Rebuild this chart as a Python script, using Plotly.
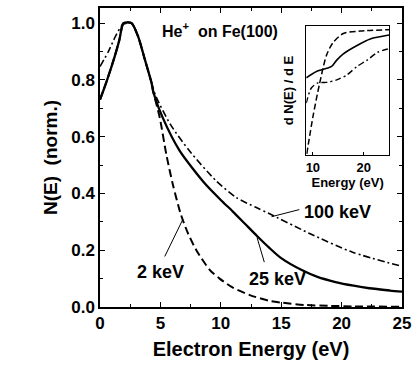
import plotly.graph_objects as go

# ---- main panel data (Electron energy in eV, N(E) normalised) ----
E_25 = [0, 0.55, 1.2, 1.6, 1.95, 2.6, 3.16, 3.71, 4.27, 4.4, 5.2, 6.6, 8.7, 10, 11, 12, 13, 14,
        15, 16.7, 18, 19.5, 21, 22.3, 24, 25]
N_25 = [0.73, 0.795, 0.88, 0.94, 1.0, 1.0, 0.952, 0.872, 0.789, 0.76, 0.666, 0.55, 0.434, 0.377, 0.336,
        0.293, 0.25, 0.209, 0.172, 0.13, 0.106, 0.088, 0.075, 0.066, 0.058, 0.054]

E_2 = [0, 0.55, 1.2, 1.6, 1.95, 2.6, 3.16, 3.71, 4.27, 4.4, 4.95, 5.5, 6.05, 6.7, 7.3, 8.0, 9.1, 9.9,
       11, 12.4, 14, 15.1, 17, 19, 21, 25]
N_2 = [0.73, 0.795, 0.88, 0.94, 1.0, 1.0, 0.952, 0.872, 0.789, 0.76, 0.666, 0.535, 0.428, 0.325, 0.258,
       0.198, 0.13, 0.1, 0.068, 0.042, 0.022, 0.015, 0.007, 0.004, 0.002, 0.001]

E_100 = [0, 0.7, 1.3, 1.9, 2.6, 3.16, 3.71, 4.27, 4.6, 5.8, 7.4, 9.6, 11.3, 12.9, 14, 17.3, 20.9, 25]
N_100 = [0.847, 0.9, 0.955, 0.995, 1.0, 0.952, 0.872, 0.789, 0.745, 0.645, 0.55, 0.445, 0.385, 0.351,
         0.329, 0.26, 0.193, 0.143]

# ---- inset data (dN/dE, arbitrary units) ----
iE_2 = [8.8, 10.0, 11.3, 12.7, 14.0, 16.0, 19.3, 25.0]
iD_2 = [0.01, 0.30, 0.56, 0.79, 0.89, 0.96, 0.98, 0.99]
iE_25 = [8.7, 10.7, 12.7, 13.7, 14.7, 16.0, 18.7, 21.3, 25.0]
iD_25 = [0.61, 0.66, 0.685, 0.70, 0.75, 0.80, 0.866, 0.917, 0.948]
iE_100 = [8.7, 9.7, 11.0, 12.7, 14.7, 16.7, 18.7, 20.7, 22.7, 25.0]
iD_100 = [0.41, 0.53, 0.57, 0.574, 0.594, 0.633, 0.70, 0.75, 0.81, 0.84]

x_ticks = [0, 5, 10, 15, 20, 25]
y_ticks = [0.0, 0.2, 0.4, 0.6, 0.8, 1.0]
y_labels = ["0.0", "0.2", "0.4", "0.6", "0.8", "1.0"]
inset_ticks = [10, 20]

FONT = "Liberation Sans, Arial, Helvetica, sans-serif"
BLACK = "#000000"

fig = go.Figure()

# main curves
fig.add_trace(go.Scatter(x=E_2, y=N_2, mode="lines",
                         line=dict(color=BLACK, width=2, dash="8px,4px", shape="spline", smoothing=0.7)))
fig.add_trace(go.Scatter(x=E_25, y=N_25, mode="lines",
                         line=dict(color=BLACK, width=2.3, shape="spline", smoothing=0.7)))
fig.add_trace(go.Scatter(x=E_100, y=N_100, mode="lines",
                         line=dict(color=BLACK, width=1.6, dash="7px,3px,2px,3px", shape="spline", smoothing=0.7)))

# inset curves
fig.add_trace(go.Scatter(x=iE_2, y=iD_2, mode="lines", xaxis="x2", yaxis="y2",
                         line=dict(color=BLACK, width=1.5, dash="6px,3px", shape="spline", smoothing=0.8)))
fig.add_trace(go.Scatter(x=iE_25, y=iD_25, mode="lines", xaxis="x2", yaxis="y2",
                         line=dict(color=BLACK, width=1.6, shape="spline", smoothing=0.8)))
fig.add_trace(go.Scatter(x=iE_100, y=iD_100, mode="lines", xaxis="x2", yaxis="y2",
                         line=dict(color=BLACK, width=1.4, dash="6px,3px,2px,3px", shape="spline", smoothing=0.8)))

tickfont = dict(family=FONT, size=17, color=BLACK, weight="bold")

fig.update_layout(
    width=417, height=368,
    margin=dict(l=100, r=14, t=6, b=61),
    paper_bgcolor="white", plot_bgcolor="white",
    showlegend=False,
    xaxis=dict(range=[0, 25], tickvals=x_ticks, ticktext=[str(v) for v in x_ticks],
               ticks="inside", ticklen=5, tickwidth=1.2, tickcolor=BLACK,
               showline=True, linecolor=BLACK, linewidth=1.5, mirror="ticks",
               showgrid=False, zeroline=False, tickfont=tickfont,
               minor=dict(dtick=2.5, tick0=0, ticks="inside", ticklen=3, tickcolor=BLACK, showgrid=False),
               title=dict(text="Electron Energy (eV)", font=dict(family=FONT, size=20, color=BLACK, weight="bold"),
                          standoff=10)),
    yaxis=dict(range=[0, 1.053], tickvals=y_ticks, ticktext=y_labels,
               ticks="inside", ticklen=5, tickwidth=1.2, tickcolor=BLACK,
               showline=True, linecolor=BLACK, linewidth=1.5, mirror="ticks",
               showgrid=False, zeroline=False, tickfont=tickfont,
               minor=dict(dtick=0.1, tick0=0, ticks="inside", ticklen=3, tickcolor=BLACK, showgrid=False),
               title=dict(text="N(E)\u00a0\u00a0(norm.)", font=dict(family=FONT, size=19, color=BLACK, weight="bold"),
                          standoff=9)),
    xaxis2=dict(domain=[0.683, 0.957], anchor="y2", range=[8.7, 25], tickvals=inset_ticks,
                ticktext=[str(v) for v in inset_ticks],
                ticks="inside", ticklen=3, tickcolor=BLACK,
                showline=True, linecolor=BLACK, linewidth=1.2, mirror=True,
                showgrid=False, zeroline=False,
                tickfont=dict(family=FONT, size=13, color=BLACK, weight="bold"),
                title=dict(text="Energy (eV)", font=dict(family=FONT, size=13, color=BLACK, weight="bold"),
                           standoff=4)),
    yaxis2=dict(domain=[0.508, 0.94], anchor="x2", range=[0, 1.02],
                showticklabels=False, ticks="",
                showline=True, linecolor=BLACK, linewidth=1.2, mirror=True,
                showgrid=False, zeroline=False,
                title=dict(text="d N(E) / d E", font=dict(family=FONT, size=13, color=BLACK, weight="bold"),
                           standoff=8)),
)

# title text and curve labels
fig.add_annotation(x=0.2, y=0.927, xref="paper", yref="paper", xanchor="left", yanchor="middle",
                   text="He<sup>+</sup>  on Fe(100)", showarrow=False,
                   font=dict(family=FONT, size=16, color=BLACK, weight="bold"))

labels = [("100 keV", 19.7, 0.336, 14.2, 0.318, 16.5, 0.343),
          ("25 keV", 14.7, 0.098, 13.0, 0.245, 13.6, 0.158),
          ("2 keV", 5.0, 0.122, 6.85, 0.308, 5.36, 0.178)]
for txt, lx, ly, x0, y0, x1, y1 in labels:
    fig.add_annotation(x=lx, y=ly, xref="x", yref="y", text=txt, showarrow=False,
                       font=dict(family=FONT, size=18, color=BLACK, weight="bold"))
    fig.add_shape(type="line", xref="x", yref="y", x0=x0, y0=y0, x1=x1, y1=y1,
                  line=dict(color=BLACK, width=1))

fig.write_html("out.html")
